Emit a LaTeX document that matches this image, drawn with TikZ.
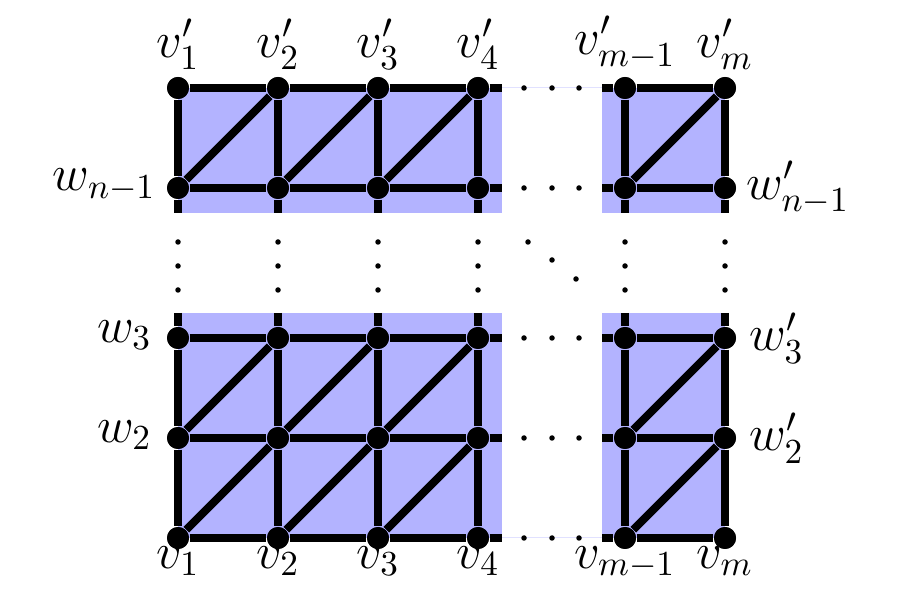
\documentclass[tikz,border=0pt]{standalone}
\begin{document}
\begin{tikzpicture}[x=1cm,y=-1cm,
  vtx/.style={circle,fill=black,inner sep=0pt,minimum size=0.22cm},
  edge/.style={line width=0.08cm},
  dt/.style={circle,fill=black,inner sep=0pt,minimum size=0.055cm},
  lbl/.style={font=\Large,inner sep=1pt}]
\useasboundingbox (0,0) rectangle (8.98,6.07);
\definecolor{fillb}{RGB}{179,179,255}
% blue regions
\fill[fillb] (1.78,0.88) rectangle (5.02,2.13);
\fill[fillb] (1.78,3.13) rectangle (5.02,5.38);
\fill[fillb] (6.02,0.88) rectangle (7.25,2.13);
\fill[fillb] (6.02,3.13) rectangle (7.25,5.38);
% vertices
\foreach \i/\x in {1/1.78,2/2.78,3/3.78,4/4.78,5/6.25,6/7.25}{
  \foreach \j/\y in {a/0.88,b/1.88,c/3.38,d/4.38,e/5.38}{
    \node[vtx] (p\i\j) at (\x,\y) {};
  }
  \coordinate (t\i) at (\x,2.13);
  \coordinate (s\i) at (\x,3.13);
}
\foreach \j/\y in {a/0.88,b/1.88,c/3.38,d/4.38,e/5.38}{
  \coordinate (L\j) at (5.02,\y);
  \coordinate (R\j) at (6.02,\y);
}
% edges
\foreach \i in {1,2,3,4,5,6}{
  \draw[edge] (p\i a) -- (p\i b) -- (t\i);
  \draw[edge] (s\i) -- (p\i c) -- (p\i d) -- (p\i e);
}
\foreach \j in {a,b,c,d,e}{
  \draw[edge] (p1\j) -- (p2\j) -- (p3\j) -- (p4\j) -- (L\j);
  \draw[edge] (R\j) -- (p5\j) -- (p6\j);
}
\foreach \i/\k in {1/2,2/3,3/4,5/6}{
  \draw[edge] (p\i b) -- (p\k a);
  \draw[edge] (p\i d) -- (p\k c);
  \draw[edge] (p\i e) -- (p\k d);
}
% redraw vertices on top
\foreach \i/\x in {1/1.78,2/2.78,3/3.78,4/4.78,5/6.25,6/7.25}{
  \foreach \j/\y in {a/0.88,b/1.88,c/3.38,d/4.38,e/5.38}{
    \fill (\x,\y) circle (0.11);
  }
}
% faint dotted row lines
\foreach \y in {0.88,5.38}{
  \draw[fillb!40,line width=0.01cm] (5.02,\y) -- (6.02,\y);
}
% dots
\foreach \y in {0.88,1.88,3.38,4.38,5.38}{
  \foreach \x in {5.24,5.52,5.79}{ \node[dt] (d\x\y) at (\x,\y) {}; }
}
\foreach \x in {1.78,2.78,3.78,4.78,6.25,7.25}{
  \foreach \y in {2.42,2.66,2.90}{ \node[dt] (e\x\y) at (\x,\y) {}; }
}
\node[dt] (g1) at (5.28,2.42) {};
\node[dt] (g2) at (5.52,2.60) {};
\node[dt] (g3) at (5.76,2.79) {};
% labels
\foreach \i/\x/\t in {1/1.78/1,2/2.78/2,3/3.78/3,4/4.78/4,5/6.25/{m-1},6/7.25/m}{
  \node[lbl,anchor=south] (top\i) at (\x,0.74) {$v'_{\t}$};
  \node[lbl,anchor=north] (bot\i) at (\x,5.42) {$v_{\t}$};
}
\node[lbl,anchor=east] (wl1) at (1.60,1.85) {$w_{n-1}$};
\node[lbl,anchor=east] (wl3) at (1.56,3.35) {$w_3$};
\node[lbl,anchor=east] (wl2) at (1.56,4.35) {$w_2$};
\node[lbl,anchor=west] (wr1) at (7.42,1.88) {$w'_{n-1}$};
\node[lbl,anchor=west] (wr3) at (7.45,3.38) {$w'_3$};
\node[lbl,anchor=west] (wr2) at (7.45,4.38) {$w'_2$};
\end{tikzpicture}
\end{document}
